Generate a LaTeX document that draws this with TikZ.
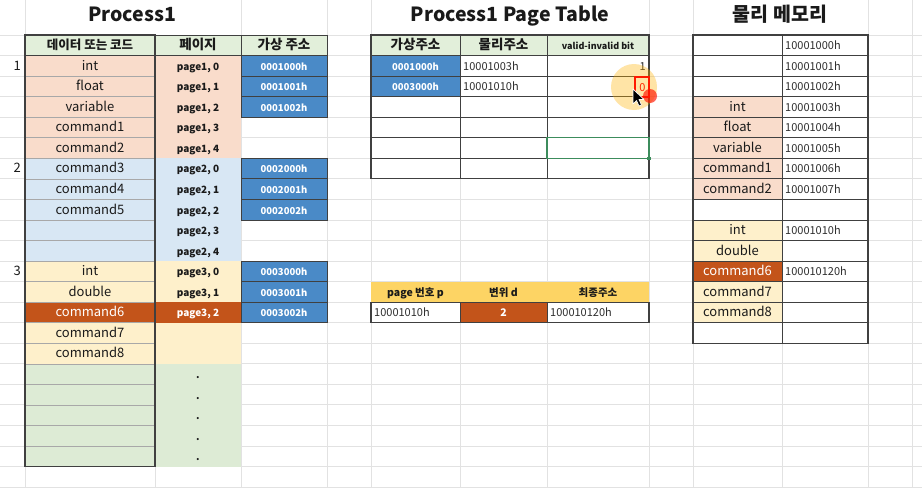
\documentclass[tikz,border=0pt]{standalone}
\usepackage{fontspec}
\setmainfont{Noto Sans CJK KR}
\definecolor{hdrgreen}{HTML}{E2EFDA}
\definecolor{salmon}{HTML}{F9DCCB}
\definecolor{lblue}{HTML}{D8E7F4}
\definecolor{lyellow}{HTML}{FEF0CB}
\definecolor{dorange}{HTML}{C3541A}
\definecolor{cblue}{HTML}{4A8AC7}
\definecolor{gold}{HTML}{FDD464}
\definecolor{bgreen}{HTML}{DDEBD5}
\definecolor{gridc}{HTML}{E2E2E2}
\definecolor{bord}{HTML}{404040}
\definecolor{midgray}{HTML}{A8A8A8}
\definecolor{txt}{HTML}{1A1A1A}
\definecolor{valtxt}{HTML}{2E2E2E}
\definecolor{selgreen}{HTML}{3C8C5C}
\newcommand\ry[1]{35+20.55*(#1)}
\newcommand\mkcell[6]{\node[cellbase, minimum width=#4pt, #5] (#1) at ({#2+#4/2},{\ry{#3+0.5}}) {#6};}
\tikzset{
  cellbase/.style={inner sep=0pt, outer sep=0pt, minimum height=20.55pt, text height=0.88em, text depth=0pt, anchor=center},
  datafont/.style={font=\fontsize{13}{15}\selectfont},
  pagefont/.style={font=\bfseries\fontsize{10}{12}\selectfont},
  addr/.style={fill=cblue, draw=bord, line width=0.8pt, text=white, font=\bfseries\fontsize{9.5}{12}\selectfont},
  hdr/.style={fill=hdrgreen, draw=bord, line width=0.8pt, text=txt, font=\bfseries\fontsize{13.5}{15}\selectfont},
  tbl/.style={draw=bord, line width=0.8pt},
  valfont/.style={inner sep=0pt, text height=0.88em, text depth=0pt, text=valtxt, font=\fontsize{11}{13}\selectfont},
  lowhdr/.style={fill=gold, text=txt, font=\bfseries\fontsize{10.5}{12}\selectfont},
  titlefont/.style={inner sep=0pt, text=txt, font=\bfseries\fontsize{19.5}{24}\selectfont},
  gridline/.style={gridc, line width=0.9pt}
}
\begin{document}
\begin{tikzpicture}[x=1pt,y=-1pt]
\useasboundingbox (0,0) rectangle (922,490);
\fill[white] (0,0) rectangle (922,490);
% spreadsheet grid
\foreach \k in {0,...,22}{\draw[gridline] (0,{\ry{\k}}) -- (922,{\ry{\k}});}
\foreach \x in {25,155,241,327,371,460,547,649,693,782,868,912}{\draw[gridline] (\x,35) -- (\x,488);}
\foreach \x in {25,241,327,371,649,693,868,912}{\draw[gridline] (\x,0) -- (\x,35);}

% titles
\node[titlefont, anchor=base] (t1) at (132,21.5) {Process1};
\node[titlefont, anchor=base] (t2) at (510,21.5) {Process1 Page Table};
\node[titlefont, anchor=base] (t3) at (780,21) {물리 메모리};

% ---------- left table ----------
\mkcell{hB}{25}{0}{130}{hdr, font=\bfseries\fontsize{12.5}{15}\selectfont}{데이터 또는 코드}
\mkcell{hC}{155}{0}{86}{hdr}{페이지}
\mkcell{hD}{241}{0}{86}{hdr}{가상 주소}

\foreach \i/\t in {1/int,2/float,3/variable,4/command1,5/command2,6/command3,7/command4,8/command5,9/,10/,11/int,12/double,13/command6,14/command7,15/command8,16/,17/,18/,19/,20/}{
  \ifnum\i<6 \def\cc{salmon}\else\ifnum\i<11 \def\cc{lblue}\else\ifnum\i<16 \def\cc{lyellow}\else\def\cc{bgreen}\fi\fi\fi
  \ifnum\i=13 \def\cc{dorange}\def\tcc{white}\else\def\tcc{txt}\fi
  \pgfmathtruncatemacro\g{floor((\i-1)/5)+1}
  \pgfmathtruncatemacro\j{mod(\i-1,5)}
  \ifnum\i<14 \def\ptxt{page\g, \j}\else\ifnum\i>15 \def\ptxt{.}\else\def\ptxt{}\fi\fi
  \mkcell{d\i}{25}{\i}{130}{fill=\cc, text=\tcc, datafont}{\t}
  \mkcell{p\i}{155}{\i}{86}{fill=\cc, text=\tcc, pagefont}{\ptxt}
}
\foreach \i in {2,...,20}{\draw[midgray, line width=0.6pt] (d\i.north west) -- (d\i.north east);}
\draw[bord, line width=1.5pt] (hB.north west) rectangle (d20.south east);

\foreach \i/\t in {1/0001000h,2/0001001h,3/0001002h,6/0002000h,7/0002001h,8/0002002h,11/0003000h,12/0003001h,13/0003002h}{
  \mkcell{a\i}{241}{\i}{86}{addr}{\t}
}

\node[datafont, text=txt, anchor=east, inner sep=0pt, text height=0.88em, text depth=0pt] (n1) at (21,{\ry{1.5}}) {1};
\node[datafont, text=txt, anchor=east, inner sep=0pt, text height=0.88em, text depth=0pt] (n2) at (21,{\ry{6.5}}) {2};
\node[datafont, text=txt, anchor=east, inner sep=0pt, text height=0.88em, text depth=0pt] (n3) at (21,{\ry{11.5}}) {3};

% ---------- page table ----------
\mkcell{hF}{371}{0}{89}{hdr}{가상주소}
\mkcell{hG}{460}{0}{87}{hdr}{물리주소}
\mkcell{hH}{547}{0}{102}{hdr, font=\bfseries\fontsize{9}{11}\selectfont}{valid-invalid bit}
\mkcell{f1}{371}{1}{89}{addr}{0001000h}
\mkcell{f2}{371}{2}{89}{addr}{0003000h}
\foreach \k in {3,...,6}{\mkcell{f\k}{371}{\k}{89}{tbl}{}}
\foreach \k in {1,...,6}{
  \mkcell{g\k}{460}{\k}{87}{tbl}{}
  \mkcell{h\k}{547}{\k}{102}{tbl}{}
}
\draw[bord, line width=1.2pt] (hF.north west) rectangle (h6.south east);
\node[valfont, anchor=west] (g1t) at ([xshift=3pt]g1.west) {10001003h};
\node[valfont, anchor=west] (g2t) at ([xshift=3pt]g2.west) {10001010h};
\node[valfont, anchor=east] (h1t) at ([xshift=-3pt]h1.east) {1};

% selected cell
\draw[selgreen, line width=1.2pt] (h5.north west) rectangle (h5.south east);
\fill[selgreen] ([xshift=-1.8pt,yshift=1.8pt]h5.south east) rectangle ([xshift=1.8pt,yshift=-1.8pt]h5.south east);

% ---------- address calculation table ----------
\mkcell{lF}{371}{12}{89}{lowhdr}{page 번호 p}
\mkcell{lG}{460}{12}{87}{lowhdr}{변위 d}
\mkcell{lH}{547}{12}{102}{lowhdr}{최종주소}
\mkcell{lf}{371}{13}{89}{tbl}{}
\mkcell{lg}{460}{13}{87}{tbl, fill=dorange, text=white, font=\bfseries\fontsize{10.5}{12}\selectfont}{2}
\mkcell{lh}{547}{13}{102}{tbl}{}
\draw[bord, line width=1.2pt] (lf.north west) rectangle (lh.south east);
\node[valfont, anchor=west] (lft) at ([xshift=3pt]lf.west) {10001010h};
\node[valfont, anchor=west] (lht) at ([xshift=3pt]lh.west) {100010120h};

% ---------- physical memory ----------
\foreach \k/\t/\c/\tc in {0//white/txt,1//white/txt,2//white/txt,3/int/salmon/txt,4/float/salmon/txt,5/variable/salmon/txt,6/command1/salmon/txt,7/command2/salmon/txt,8//white/txt,9/int/lyellow/txt,10/double/lyellow/txt,11/command6/dorange/white,12/command7/lyellow/txt,13/command8/lyellow/txt,14//white/txt}{
  \mkcell{j\k}{693}{\k}{89}{tbl, fill=\c, text=\tc, datafont}{\t}
}
\foreach \k/\t in {0/10001000h,1/10001001h,2/10001002h,3/10001003h,4/10001004h,5/10001005h,6/10001006h,7/10001007h,8/,9/10001010h,10/,11/100010120h,12/,13/,14/}{
  \mkcell{k\k}{782}{\k}{86}{tbl}{}
  \node[valfont, anchor=west] (kt\k) at ([xshift=3pt]k\k.west) {\t};
}
\draw[bord, line width=1.2pt] (j0.north west) rectangle (k14.south east);
\draw[bord, line width=1.8pt] (k0.north east) -- (k14.south east);

% ---------- pointer overlay ----------
\fill[orange!60!yellow, opacity=0.35] (634,87) circle (23);
\node[valfont, text=red!70!orange, anchor=center] (h2t) at (642.5,87) {0};
\draw[red!80!orange, line width=1.2pt] (635,77) rectangle (649,97);
\fill[red!85!orange, opacity=0.65] (650,96) circle (7);
\filldraw[fill=black, draw=white, line width=0.7pt, line join=round]
  (633,89) -- ++(0,15) -- ++(3.5,-3.5) -- ++(2.5,5.5) -- ++(2.5,-1) -- ++(-2.5,-5.5) -- ++(5,0) -- cycle;
\end{tikzpicture}
\end{document}
